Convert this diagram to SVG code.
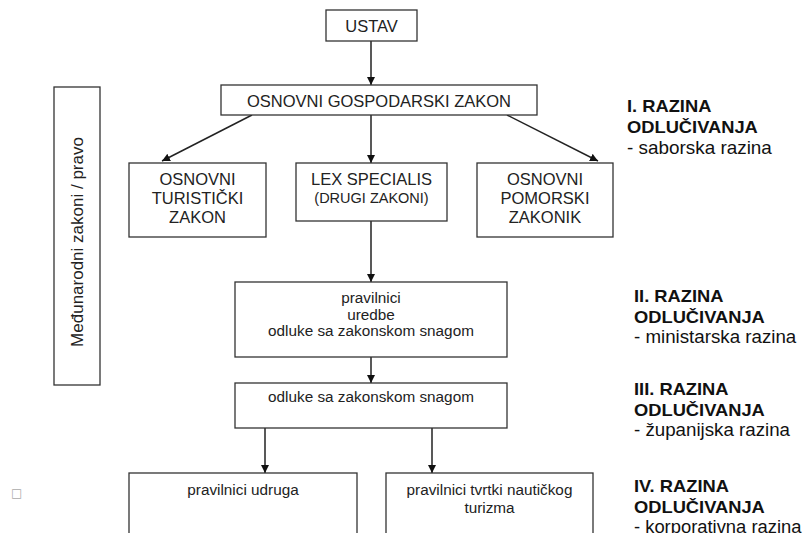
<svg xmlns="http://www.w3.org/2000/svg" width="804" height="533" viewBox="0 0 804 533">
<style>
.box{fill:#fff;stroke:#333;stroke-width:1.3}
.t{font-family:"Liberation Sans",Arial,sans-serif;fill:#222;text-anchor:middle}
.cap{font-size:16.5px}
.sm{font-size:15.3px}
.lvb{font-family:"Liberation Sans",Arial,sans-serif;fill:#111;font-size:16.8px;font-weight:bold}
.lvr{font-family:"Liberation Sans",Arial,sans-serif;fill:#111;font-size:17.5px}
.c{stroke:#222;stroke-width:1.5;fill:none}
</style>
<defs>
<marker id="ah" viewBox="0 0 10 10" refX="10" refY="5" markerWidth="8" markerHeight="8" markerUnits="userSpaceOnUse" orient="auto">
<path d="M0,0 L10,5 L0,10 z" fill="#111"/>
</marker>
</defs>
<rect width="804" height="533" fill="#fff"/>

<g id="connectors">
<line class="c" x1="371" y1="41" x2="371" y2="85" marker-end="url(#ah)"/>
<line class="c" x1="252" y1="115" x2="162" y2="161" marker-end="url(#ah)"/>
<line class="c" x1="371" y1="115" x2="371" y2="163" marker-end="url(#ah)"/>
<line class="c" x1="507" y1="115" x2="598" y2="161" marker-end="url(#ah)"/>
<line class="c" x1="371" y1="221" x2="371" y2="282" marker-end="url(#ah)"/>
<line class="c" x1="371" y1="357" x2="371" y2="383" marker-end="url(#ah)"/>
<line class="c" x1="265" y1="428" x2="265" y2="473" marker-end="url(#ah)"/>
<line class="c" x1="432" y1="428" x2="432" y2="473" marker-end="url(#ah)"/>
</g>

<g id="ustav">
<rect class="box" x="326" y="10" width="91" height="31"/>
<text class="t cap" x="371.5" y="32">USTAV</text>
</g>

<g id="ogz">
<rect class="box" x="221" y="85" width="316" height="30"/>
<text class="t cap" x="379" y="107">OSNOVNI GOSPODARSKI ZAKON</text>
</g>

<g id="turisticki">
<rect class="box" x="129" y="163" width="137" height="74"/>
<text class="t cap" x="197.5" y="185">OSNOVNI</text>
<text class="t cap" x="197.5" y="204">TURISTIČKI</text>
<text class="t cap" x="197.5" y="223">ZAKON</text>
</g>

<g id="lex">
<rect class="box" x="296" y="163" width="151" height="58"/>
<text class="t cap" x="371.5" y="185">LEX SPECIALIS</text>
<text class="t" style="font-size:14.5px" x="371.5" y="203">(DRUGI ZAKONI)</text>
</g>

<g id="pomorski">
<rect class="box" x="477" y="163" width="136" height="74"/>
<text class="t cap" x="545" y="185">OSNOVNI</text>
<text class="t cap" x="545" y="204">POMORSKI</text>
<text class="t cap" x="545" y="223">ZAKONIK</text>
</g>

<g id="pravilnici">
<rect class="box" x="235" y="282" width="272" height="75"/>
<text class="t sm" x="371" y="303">pravilnici</text>
<text class="t sm" x="371" y="320">uredbe</text>
<text class="t sm" x="371" y="336">odluke sa zakonskom snagom</text>
</g>

<g id="odluke">
<rect class="box" x="235" y="383" width="272" height="45"/>
<text class="t sm" x="371" y="402">odluke sa zakonskom snagom</text>
</g>

<g id="udruga">
<rect class="box" x="129" y="473" width="228" height="70"/>
<text class="t sm" x="243" y="495">pravilnici udruga</text>
</g>

<g id="tvrtke">
<rect class="box" x="386" y="473" width="207" height="70"/>
<text class="t sm" x="489.5" y="495">pravilnici tvrtki nautičkog</text>
<text class="t sm" x="489.5" y="513">turizma</text>
</g>

<g id="medjunarodni">
<rect class="box" x="54" y="87" width="46" height="298"/>
<text class="t" style="font-size:17px" transform="translate(83,242) rotate(-90)" x="0" y="0">Međunarodni  zakoni / pravo</text>
</g>

<g id="razina1">
<text class="lvb" transform="translate(627,112) scale(1.09,1)">I. RAZINA</text>
<text class="lvb" transform="translate(627,133) scale(1.09,1)">ODLUČIVANJA</text>
<text class="lvr" transform="translate(627,154) scale(1.08,1)">- saborska razina</text>
</g>
<g id="razina2">
<text class="lvb" transform="translate(634,302) scale(1.09,1)">II. RAZINA</text>
<text class="lvb" transform="translate(634,323) scale(1.09,1)">ODLUČIVANJA</text>
<text class="lvr" transform="translate(634,343) scale(1.07,1)">- ministarska razina</text>
</g>
<g id="razina3">
<text class="lvb" transform="translate(634,395) scale(1.09,1)">III. RAZINA</text>
<text class="lvb" transform="translate(634,416) scale(1.09,1)">ODLUČIVANJA</text>
<text class="lvr" transform="translate(634,436) scale(1.07,1)">- županijska razina</text>
</g>
<g id="razina4">
<text class="lvb" transform="translate(634,492) scale(1.09,1)">IV. RAZINA</text>
<text class="lvb" transform="translate(634,513) scale(1.09,1)">ODLUČIVANJA</text>
<text class="lvr" transform="translate(634,533) scale(1.05,1)">- korporativna razina</text>
</g>

<text x="11" y="497" style="font-family:'DejaVu Sans',sans-serif;font-size:12px;fill:#aaa">□</text>
</svg>
